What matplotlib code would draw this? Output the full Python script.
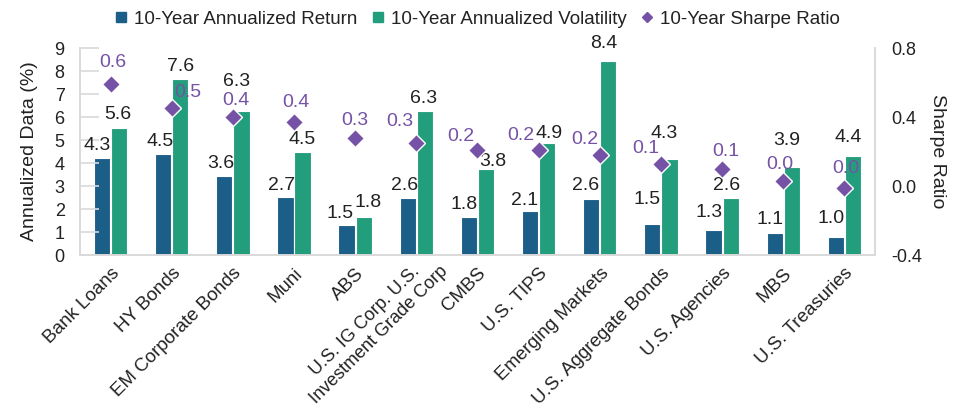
import matplotlib
matplotlib.use("Agg")
import matplotlib.pyplot as plt
import matplotlib.transforms as mtransforms
from matplotlib.lines import Line2D
import numpy as np

plt.rcParams['font.family'] = ['Liberation Sans', 'DejaVu Sans']

categories = ["Bank Loans", "HY Bonds", "EM Corporate Bonds", "Muni", "ABS",
              "U.S. IG Corp. U.S.\nInvestment Grade Corp", "CMBS", "U.S. TIPS",
              "Emerging Markets", "U.S. Aggregate Bonds", "U.S. Agencies", "MBS",
              "U.S. Treasuries"]
ret_vals = [4.22, 4.39, 3.45, 2.54, 1.31, 2.50, 1.66, 1.93, 2.45, 1.35, 1.09, 0.94, 0.78]
vol_vals = [5.54, 7.64, 6.25, 4.46, 1.66, 6.28, 3.73, 4.86, 8.43, 4.18, 2.47, 3.82, 4.29]
sharpe_vals = [0.59, 0.45, 0.40, 0.37, 0.28, 0.25, 0.21, 0.21, 0.18, 0.13, 0.10, 0.03, -0.01]
ret_labels = ["4.3", "4.5", "3.6", "2.7", "1.5", "2.6", "1.8", "2.1", "2.6", "1.5", "1.3", "1.1", "1.0"]
vol_labels = ["5.6", "7.6", "6.3", "4.5", "1.8", "6.3", "3.8", "4.9", "8.4", "4.3", "2.6", "3.9", "4.4"]
sharpe_labels = ["0.6", "0.5", "0.4", "0.4", "0.3", "0.3", "0.2", "0.2", "0.2", "0.1", "0.1", "0.0", "0.0"]

# label offsets in pixels (dx, dy up) from the mark, as placed in the reference
ret_off = [(-5, 12.7), (-3.5, 12.5), (-4, 12), (-3.5, 11.5), (-7, 11.5), (-3.5, 12.5),
           (-5, 12.5), (-6, 10.5), (-5.5, 13.5), (-5, 24), (-4.5, 17.5), (-5, 14), (-4.5, 18.5)]
vol_off = [(-1, 12.7), (0, 13), (-5, 30), (0, 13), (4, 14.5), (-1, 12.5), (7, 7.5),
           (2, 10), (-4.5, 18), (-5, 25), (-4, 13), (-5, 27), (-4.5, 19)]
sharpe_off = [(2, 21.5), (16, 16), (3, 17), (2, 20), (0, 17), (-17, 21), (-17, 13),
              (-18, 14), (-15, 15), (-15, 15), (4, 17), (-3, 16.5), (1.5, 19)]

c_ret = "#1b5f89"
c_vol = "#239e7d"
c_sharpe = "#7552a5"
c_spine = "#d9d9d9"
c_text = "#222222"

x = np.arange(len(categories))
w = 0.265
px = 0.72  # pixels -> points at 100 dpi

fig = plt.figure(figsize=(9.61, 4.09), dpi=100)
ax = fig.add_axes([0.0832, 0.3765, 0.8273, 0.5061])
ax2 = ax.twinx()

ax.bar(x - 0.14, ret_vals, w, color=c_ret, edgecolor="white", linewidth=0.8)
ax.bar(x + 0.14, vol_vals, w, color=c_vol, edgecolor="white", linewidth=0.8)

for xi, v, lab, (dx, dy) in zip(x - 0.14, ret_vals, ret_labels, ret_off):
    ax.annotate(lab, (xi, v), xytext=(dx * px, dy * px), textcoords="offset points",
                ha="center", va="center", fontsize=14, color=c_text)
for xi, v, lab, (dx, dy) in zip(x + 0.14, vol_vals, vol_labels, vol_off):
    ax.annotate(lab, (xi, v), xytext=(dx * px, dy * px), textcoords="offset points",
                ha="center", va="center", fontsize=14, color=c_text)

ax2.plot(x, sharpe_vals, linestyle="none", marker="D", ms=9.2, color=c_sharpe,
         markeredgecolor="white", markeredgewidth=1)
for xi, v, lab, (dx, dy) in zip(x, sharpe_vals, sharpe_labels, sharpe_off):
    ax2.annotate(lab, (xi, v), xytext=(dx * px, dy * px), textcoords="offset points",
                 ha="center", va="center", fontsize=14, color=c_sharpe)

ax.set_xlim(-0.5, len(categories) - 0.5)
ax.set_ylim(0, 9)
ax.set_yticks(range(0, 10))
ax2.set_ylim(-0.4, 0.8)
ax2.set_yticks([-0.4, 0.0, 0.4, 0.8])
ax2.set_yticklabels([f"{t:.1f}" for t in [-0.4, 0.0, 0.4, 0.8]])

for a in (ax, ax2):
    for s in a.spines.values():
        s.set_color(c_spine)
        s.set_linewidth(1.2)
    a.spines["top"].set_visible(False)

ax.tick_params(axis="y", direction="in", length=14, width=1.2, color=c_spine,
               labelsize=13, labelcolor=c_text, pad=11)
ax2.tick_params(axis="y", length=0, labelsize=13, labelcolor=c_text, pad=12)
ax.tick_params(axis="x", length=0, labelsize=13.5, labelcolor=c_text, pad=7)

ax.set_xticks(x)
ax.set_xticklabels(categories, rotation=45, ha="right", va="top",
                   rotation_mode="anchor", multialignment="center")
# the two-line label is a touch smaller and sits further up-right in the reference
ig = ax.get_xticklabels()[5]
ig.set_fontsize(13)
ig.set_transform(ig.get_transform() +
                 mtransforms.ScaledTranslation(9 / 100, 16 / 100, fig.dpi_scale_trans))

ax.set_ylabel("Annualized Data (%)", fontsize=14, color=c_text, labelpad=12)
ax2.set_ylabel("Sharpe Ratio", fontsize=14, color=c_text, rotation=270, labelpad=17)

handles = [
    Line2D([], [], linestyle="none", marker="s", ms=7.5, color=c_ret),
    Line2D([], [], linestyle="none", marker="s", ms=7.5, color=c_vol),
    Line2D([], [], linestyle="none", marker="D", ms=5.5, color=c_sharpe),
]
fig.legend(handles, ["10-Year Annualized Return", "10-Year Annualized Volatility",
                     "10-Year Sharpe Ratio"],
           loc="center", bbox_to_anchor=(0.496, 0.953), ncol=3, frameon=False,
           fontsize=13.5, handlelength=0.8, handletextpad=0.3, columnspacing=0.7,
           labelcolor=c_text)

fig.savefig("out.png", dpi=100)
